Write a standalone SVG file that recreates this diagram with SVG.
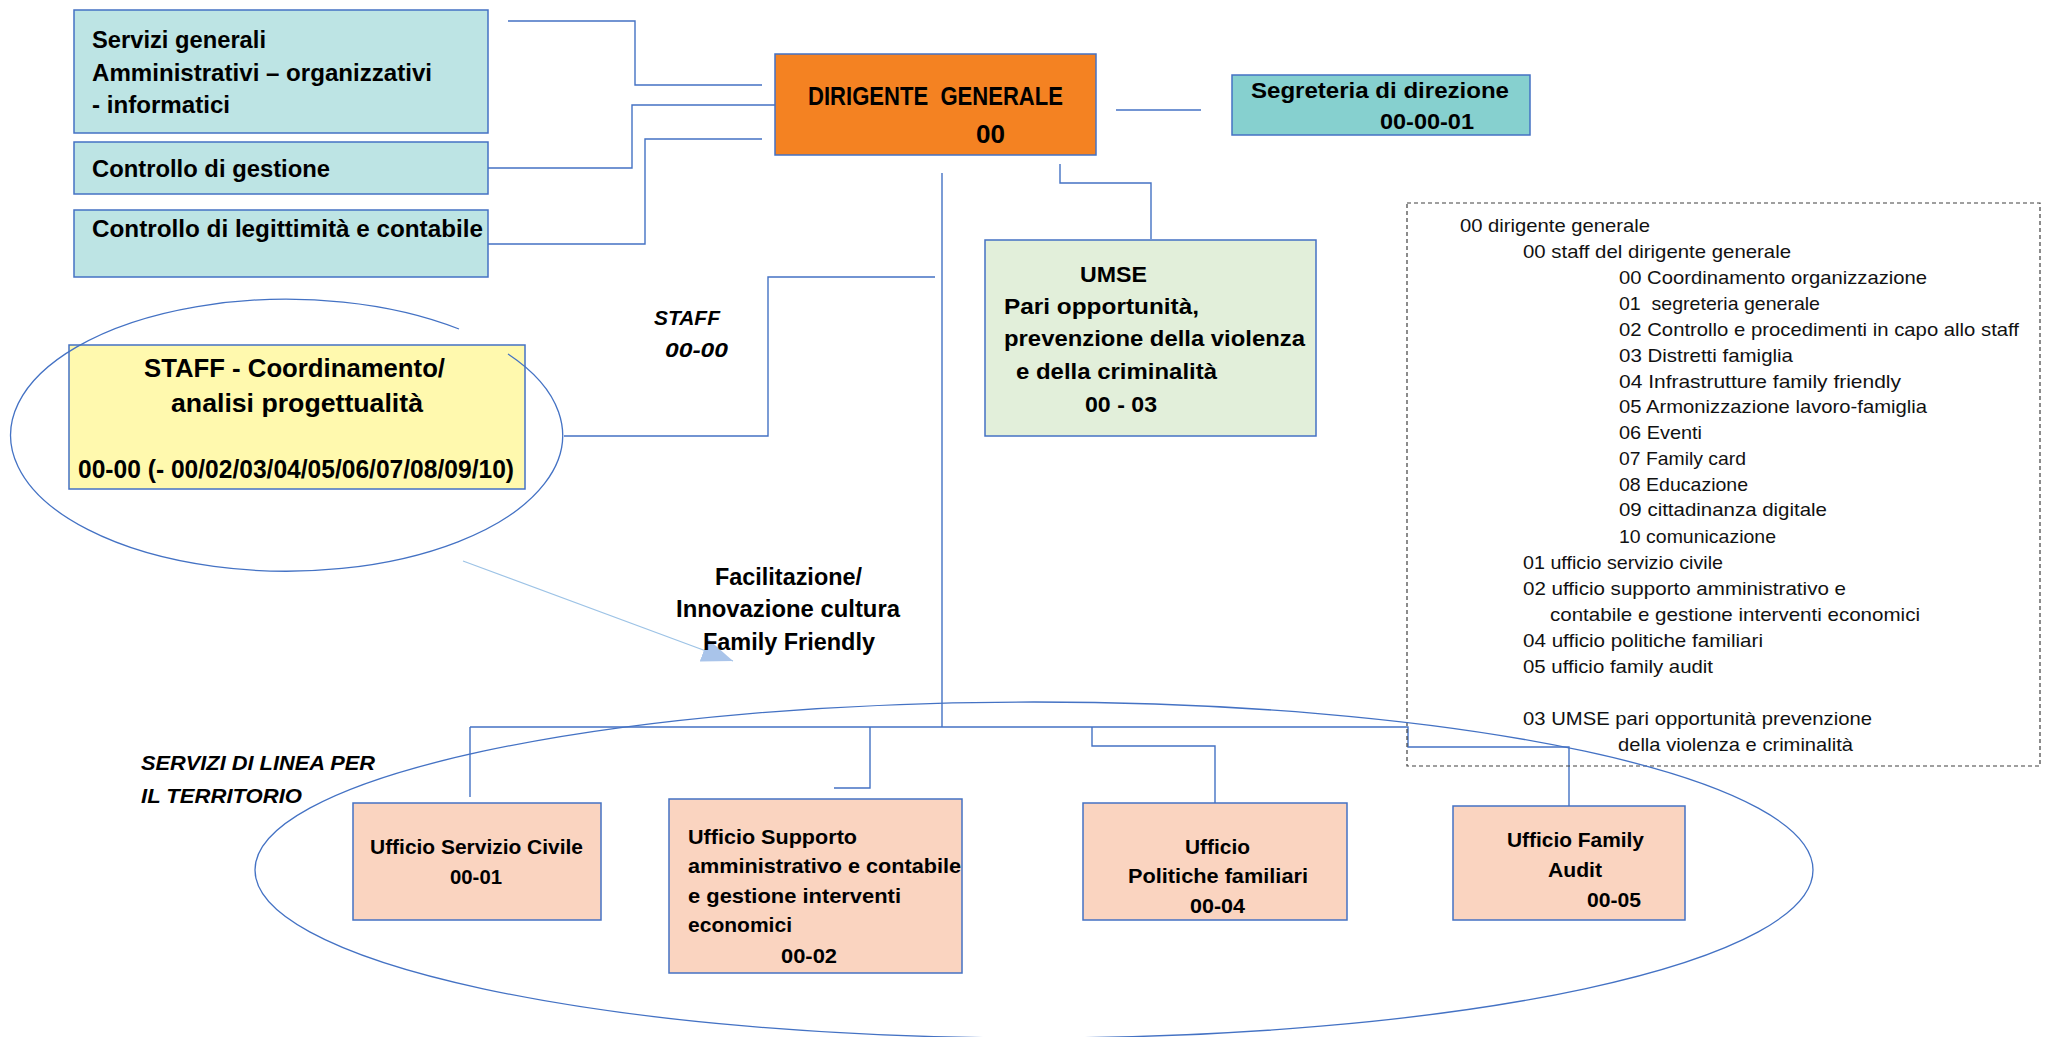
<svg xmlns="http://www.w3.org/2000/svg" width="2045" height="1037" viewBox="0 0 2045 1037">
<style>
.box{stroke:#4472C4;stroke-width:1.5}
.cy{fill:#BDE4E4}
.t{font-family:"Liberation Sans",Arial,sans-serif;font-weight:bold;fill:#000}
.s23{font-size:24.5px}.s24{font-size:25px}.s22{font-size:22.5px}.s21{font-size:21px}.s20{font-size:20.5px}
.it{font-style:italic}
.r{font-family:"Liberation Sans",Arial,sans-serif;font-size:19px;fill:#111}
.conn{fill:none;stroke:#4472C4;stroke-width:1.4}
.uf{fill:#FAD4C0}
</style>
<defs>
<marker id="ah" viewBox="0 0 31 24" refX="31" refY="12" markerWidth="31" markerHeight="24" markerUnits="userSpaceOnUse" orient="auto">
<path d="M0,0 L31,12 L0,24 z" fill="#A9C4EA"/>
</marker>
</defs>
<rect width="2045" height="1037" fill="#fff"/>

<g id="connectors">
<polyline class="conn" points="508,21 635,21 635,85 762,85"/>
<polyline class="conn" points="487,168 632,168 632,105 775,105"/>
<polyline class="conn" points="487,244 645,244 645,139 762,139"/>
<polyline class="conn" points="1116,110 1201,110"/>
<polyline class="conn" points="1060,164 1060,183 1151,183 1151,239"/>
<polyline class="conn" points="942,173 942,727"/>
<polyline class="conn" points="935,277 768,277 768,436 564,436"/>
<polyline class="conn" points="470,727 1408,727 1408,747 1569,747 1569,806"/>
<polyline class="conn" points="470,727 470,797"/>
<polyline class="conn" points="870,727 870,788 834,788"/>
<polyline class="conn" points="1092,727 1092,746 1215,746 1215,803"/>
<line x1="463" y1="561" x2="733" y2="661" stroke="#9DC3E6" stroke-width="1.2" marker-end="url(#ah)"/>
</g>

<g id="servizi-generali">
<rect class="box cy" x="74" y="10" width="414" height="123"/>
<text class="t s23" x="92" y="48" textLength="174" lengthAdjust="spacingAndGlyphs">Servizi generali</text>
<text class="t s23" x="92" y="81" textLength="340" lengthAdjust="spacingAndGlyphs">Amministrativi – organizzativi</text>
<text class="t s23" x="92" y="113" textLength="138" lengthAdjust="spacingAndGlyphs">- informatici</text>
</g>
<g id="controllo-gestione">
<rect class="box cy" x="74" y="142" width="414" height="52"/>
<text class="t s23" x="92" y="177" textLength="238" lengthAdjust="spacingAndGlyphs">Controllo di gestione</text>
</g>
<g id="controllo-legittimita">
<rect class="box cy" x="74" y="210" width="414" height="67"/>
<text class="t s23" x="92" y="237" textLength="391" lengthAdjust="spacingAndGlyphs">Controllo di legittimità e contabile</text>
</g>

<g id="dirigente">
<rect class="box" x="775" y="54" width="321" height="101" fill="#F48222"/>
<text class="t s24" x="808" y="105" textLength="255" lengthAdjust="spacingAndGlyphs" xml:space="preserve">DIRIGENTE  GENERALE</text>
<text class="t s24" x="976" y="143" textLength="29" lengthAdjust="spacingAndGlyphs">00</text>
</g>

<g id="segreteria">
<rect class="box" x="1232" y="75" width="298" height="60" fill="#86D0CF"/>
<text class="t s22" x="1251" y="98" textLength="258" lengthAdjust="spacingAndGlyphs">Segreteria di direzione</text>
<text class="t s22" x="1380" y="129" textLength="94" lengthAdjust="spacingAndGlyphs">00-00-01</text>
</g>

<g id="umse">
<rect class="box" x="985" y="240" width="331" height="196" fill="#E2EFDA"/>
<text class="t s22" x="1080" y="282" textLength="67" lengthAdjust="spacingAndGlyphs">UMSE</text>
<text class="t s22" x="1004" y="314" textLength="195" lengthAdjust="spacingAndGlyphs">Pari opportunità,</text>
<text class="t s22" x="1004" y="346" textLength="301" lengthAdjust="spacingAndGlyphs">prevenzione della violenza</text>
<text class="t s22" x="1016" y="379" textLength="201" lengthAdjust="spacingAndGlyphs">e della criminalità</text>
<text class="t s22" x="1085" y="412" textLength="72" lengthAdjust="spacingAndGlyphs">00 - 03</text>
</g>

<g id="staff-label">
<text class="t s21 it" x="654" y="325" textLength="66" lengthAdjust="spacingAndGlyphs">STAFF</text>
<text class="t s21 it" x="665" y="357" textLength="63" lengthAdjust="spacingAndGlyphs">00-00</text>
</g>

<g id="staff-coordinamento">
<rect class="box" x="69" y="345" width="456" height="144" fill="#FFF9AE"/>
<text class="t s24" x="144" y="377" textLength="301" lengthAdjust="spacingAndGlyphs">STAFF - Coordinamento/</text>
<text class="t s24" x="171" y="412" textLength="252" lengthAdjust="spacingAndGlyphs">analisi progettualità</text>
<text class="t s24" x="78" y="478" textLength="436" lengthAdjust="spacingAndGlyphs">00-00 (- 00/02/03/04/05/06/07/08/09/10)</text>
<path d="M508,354 A276,136 0 1 1 459,329" fill="none" stroke="#4472C4" stroke-width="1.3"/>
</g>

<g id="facilitazione">
<text class="t s23" x="715" y="585" textLength="147" lengthAdjust="spacingAndGlyphs">Facilitazione/</text>
<text class="t s23" x="676" y="617" textLength="224" lengthAdjust="spacingAndGlyphs">Innovazione cultura</text>
<text class="t s23" x="703" y="650" textLength="172" lengthAdjust="spacingAndGlyphs">Family Friendly</text>
</g>

<g id="legenda">
<rect x="1407" y="203" width="633" height="563" fill="none" stroke="#404040" stroke-width="1.2" stroke-dasharray="4,3"/>
<text class="r" x="1460" y="232" textLength="190" lengthAdjust="spacingAndGlyphs">00 dirigente generale</text>
<text class="r" x="1523" y="258" textLength="268" lengthAdjust="spacingAndGlyphs">00 staff del dirigente generale</text>
<text class="r" x="1619" y="284" textLength="308" lengthAdjust="spacingAndGlyphs">00 Coordinamento organizzazione</text>
<text class="r" x="1619" y="310" textLength="201" lengthAdjust="spacingAndGlyphs" xml:space="preserve">01  segreteria generale</text>
<text class="r" x="1619" y="336" textLength="400" lengthAdjust="spacingAndGlyphs">02 Controllo e procedimenti in capo allo staff</text>
<text class="r" x="1619" y="362" textLength="174" lengthAdjust="spacingAndGlyphs">03 Distretti famiglia</text>
<text class="r" x="1619" y="388" textLength="282" lengthAdjust="spacingAndGlyphs">04 Infrastrutture family friendly</text>
<text class="r" x="1619" y="413" textLength="308" lengthAdjust="spacingAndGlyphs">05 Armonizzazione lavoro-famiglia</text>
<text class="r" x="1619" y="439" textLength="83" lengthAdjust="spacingAndGlyphs">06 Eventi</text>
<text class="r" x="1619" y="465" textLength="127" lengthAdjust="spacingAndGlyphs">07 Family card</text>
<text class="r" x="1619" y="491" textLength="129" lengthAdjust="spacingAndGlyphs">08 Educazione</text>
<text class="r" x="1619" y="516" textLength="208" lengthAdjust="spacingAndGlyphs">09 cittadinanza digitale</text>
<text class="r" x="1619" y="543" textLength="157" lengthAdjust="spacingAndGlyphs">10 comunicazione</text>
<text class="r" x="1523" y="569" textLength="200" lengthAdjust="spacingAndGlyphs">01 ufficio servizio civile</text>
<text class="r" x="1523" y="595" textLength="323" lengthAdjust="spacingAndGlyphs">02 ufficio supporto amministrativo e</text>
<text class="r" x="1550" y="621" textLength="370" lengthAdjust="spacingAndGlyphs">contabile e gestione interventi economici</text>
<text class="r" x="1523" y="647" textLength="240" lengthAdjust="spacingAndGlyphs">04 ufficio politiche familiari</text>
<text class="r" x="1523" y="673" textLength="190" lengthAdjust="spacingAndGlyphs">05 ufficio family audit</text>
<text class="r" x="1523" y="725" textLength="349" lengthAdjust="spacingAndGlyphs">03 UMSE pari opportunità prevenzione</text>
<text class="r" x="1618" y="751" textLength="235" lengthAdjust="spacingAndGlyphs">della violenza e criminalità</text>
</g>

<g id="servizi-linea">
<text class="t s21 it" x="141" y="770" textLength="234" lengthAdjust="spacingAndGlyphs">SERVIZI DI LINEA PER</text>
<text class="t s21 it" x="141" y="803" textLength="161" lengthAdjust="spacingAndGlyphs">IL TERRITORIO</text>
<ellipse cx="1034" cy="870" rx="779" ry="168" fill="none" stroke="#4472C4" stroke-width="1.3"/>
</g>

<g id="ufficio-servizio-civile">
<rect class="box uf" x="353" y="803" width="248" height="117"/>
<text class="t s20" x="370" y="854" textLength="213" lengthAdjust="spacingAndGlyphs">Ufficio Servizio Civile</text>
<text class="t s20" x="450" y="884" textLength="52" lengthAdjust="spacingAndGlyphs">00-01</text>
</g>

<g id="ufficio-supporto">
<rect class="box uf" x="669" y="799" width="293" height="174"/>
<text class="t s20" x="688" y="844" textLength="169" lengthAdjust="spacingAndGlyphs">Ufficio Supporto</text>
<text class="t s20" x="688" y="873" textLength="273" lengthAdjust="spacingAndGlyphs">amministrativo e contabile</text>
<text class="t s20" x="688" y="903" textLength="213" lengthAdjust="spacingAndGlyphs">e gestione interventi</text>
<text class="t s20" x="688" y="932" textLength="104" lengthAdjust="spacingAndGlyphs">economici</text>
<text class="t s20" x="781" y="963" textLength="56" lengthAdjust="spacingAndGlyphs">00-02</text>
</g>

<g id="ufficio-politiche">
<rect class="box uf" x="1083" y="803" width="264" height="117"/>
<text class="t s20" x="1185" y="854" textLength="65" lengthAdjust="spacingAndGlyphs">Ufficio</text>
<text class="t s20" x="1128" y="883" textLength="180" lengthAdjust="spacingAndGlyphs">Politiche familiari</text>
<text class="t s20" x="1190" y="913" textLength="55" lengthAdjust="spacingAndGlyphs">00-04</text>
</g>

<g id="ufficio-family-audit">
<rect class="box uf" x="1453" y="806" width="232" height="114"/>
<text class="t s20" x="1507" y="847" textLength="137" lengthAdjust="spacingAndGlyphs">Ufficio Family</text>
<text class="t s20" x="1548" y="877" textLength="54" lengthAdjust="spacingAndGlyphs">Audit</text>
<text class="t s20" x="1587" y="907" textLength="54" lengthAdjust="spacingAndGlyphs">00-05</text>
</g>
</svg>
